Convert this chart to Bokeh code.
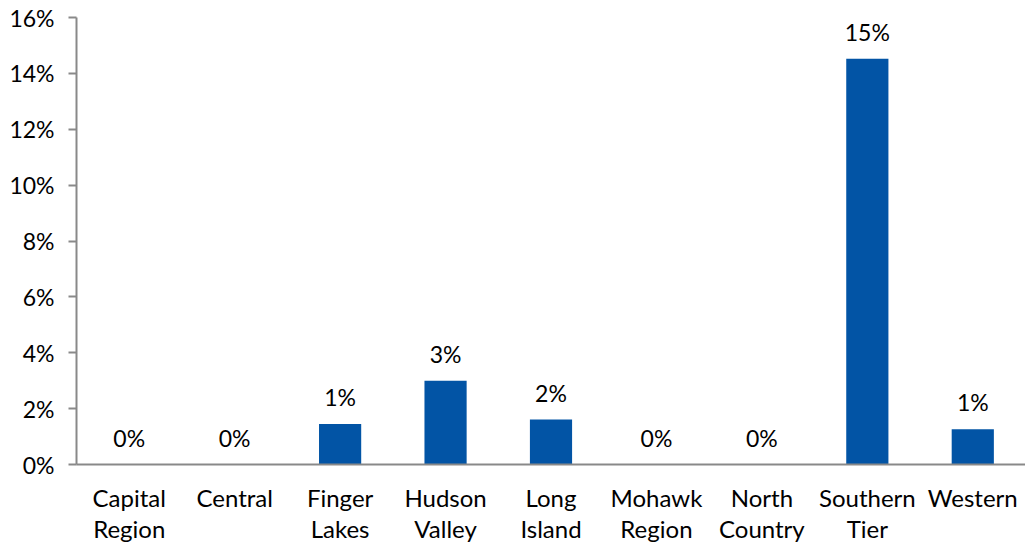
from bokeh.plotting import figure
from bokeh.models import Range1d, FixedTicker, ColumnDataSource
from bokeh.core.properties import value
from bokeh.embed import file_html
from bokeh.resources import INLINE

categories = ["Capital Region", "Central", "Finger Lakes", "Hudson Valley", "Long Island",
              "Mohawk Region", "North Country", "Southern Tier", "Western"]
tick_labels = ["Capital\nRegion", "Central", "Finger\nLakes", "Hudson\nValley", "Long\nIsland",
               "Mohawk\nRegion", "North\nCountry", "Southern\nTier", "Western"]
values = [0.0, 0.0, 1.45, 3.0, 1.61, 0.0, 0.0, 14.52, 1.26]
data_labels = ["0%", "0%", "1%", "3%", "2%", "0%", "0%", "15%", "1%"]
y_ticks = [0, 2, 4, 6, 8, 10, 12, 14, 16]

FONT = "Lato"
x = [i + 0.5 for i in range(len(categories))]
src = ColumnDataSource(dict(x=x, top=values, lab=data_labels))

p = figure(width=1025, height=546, output_backend="svg", toolbar_location=None,
           x_range=Range1d(0, len(categories)), y_range=Range1d(0, 16),
           min_border_left=76, min_border_right=0, min_border_top=17, min_border_bottom=82)
p.outline_line_color = None
p.xgrid.visible = False
p.ygrid.visible = False
p.background_fill_color = "white"

p.vbar(x="x", top="top", width=0.4, bottom=0, source=src, fill_color="#0254A5", line_color=None)
p.text(x="x", y="top", text="lab", source=src, text_align="center", text_baseline="bottom",
       y_offset=-13, text_font=value(FONT), text_font_size="23px", text_color="#000000")

p.yaxis.ticker = FixedTicker(ticks=y_ticks)
p.yaxis.major_label_overrides = {t: f"{t}%" for t in y_ticks}
p.yaxis.axis_line_color = "#898989"
p.yaxis.axis_line_width = 2
p.yaxis.major_tick_line_color = "#898989"
p.yaxis.major_tick_line_width = 2
p.yaxis.major_tick_out = 8
p.yaxis.major_tick_in = 0
p.yaxis.minor_tick_line_color = None
p.yaxis.major_label_standoff = 14
p.yaxis.major_label_text_font = FONT
p.yaxis.major_label_text_font_size = "23px"
p.yaxis.major_label_text_color = "#000000"

p.xaxis.ticker = FixedTicker(ticks=x)
p.xaxis.major_label_overrides = {xx: t for xx, t in zip(x, tick_labels)}
p.xaxis.axis_line_color = "#898989"
p.xaxis.axis_line_width = 2
p.xaxis.major_tick_line_color = None
p.xaxis.minor_tick_line_color = None
p.xaxis.major_label_standoff = 12
p.xaxis.major_label_text_font = FONT
p.xaxis.major_label_text_font_size = "24px"
p.xaxis.major_label_text_color = "#000000"
p.xaxis.major_label_text_line_height = 1.1

open("out.html", "w").write(file_html(p, INLINE))
